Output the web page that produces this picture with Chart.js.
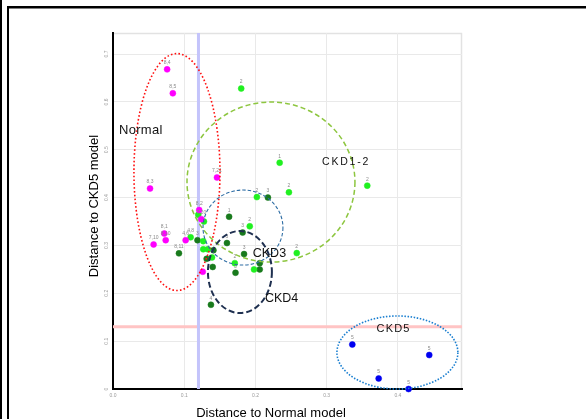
<!DOCTYPE html>
<html><head><meta charset="utf-8">
<script src="https://cdn.jsdelivr.net/npm/chart.js@4/dist/chart.umd.min.js"></script>
<style>html,body{margin:0;padding:0;background:#fff;overflow:hidden}#wrap{position:relative;width:586px;height:419px}</style>
</head><body><div id="wrap"><canvas id="c" width="586" height="419"></canvas></div>
<script>
// ---- data ----
const normalX = [0.076, 0.084, 0.052, 0.146, 0.121, 0.124, 0.072, 0.057, 0.074, 0.102, 0.126];
const normalY = [0.668, 0.618, 0.419, 0.442, 0.374, 0.355, 0.325, 0.302, 0.311, 0.311, 0.245];
const normalLabels = ["8,4","8,5","8,3","7,21","8,2","7,20","8,1","7,10","8,10","4,6",""];

const ckd12X = [0.180, 0.234, 0.247, 0.357, 0.202, 0.192, 0.258, 0.171, 0.198, 0.109, 0.1197, 0.1277, 0.1267, 0.1267, 0.133, 0.139];
const ckd12Y = [0.628, 0.473, 0.411, 0.425, 0.401, 0.340, 0.284, 0.263, 0.250, 0.317, 0.364, 0.350, 0.309, 0.292, 0.292, 0.275];
const ckd12Labels = ["2","1","2","2","2","2","2","2","","4,8","","","","","",""];

const ckd34X = [0.2175, 0.163, 0.182, 0.160, 0.184, 0.172, 0.206, 0.206, 0.1375, 0.0926, 0.1186, 0.140, 0.1315, 0.141];
const ckd34Y = [0.400, 0.360, 0.327, 0.305, 0.282, 0.243, 0.263, 0.250, 0.176, 0.2835, 0.311, 0.255, 0.272, 0.290];
const ckd34Labels = ["3","1","3","3","3","3","","","4","8,11","3","","",""];

const ckd5X = [0.336, 0.373, 0.415, 0.444];
const ckd5Y = [0.093, 0.022, 0.000, 0.071];
const ckd5Labels = ["5","5","5","5"];

const xTicks = [0.0, 0.1, 0.2, 0.3, 0.4];
const yTicks = [0, 0.1, 0.2, 0.3, 0.4, 0.5, 0.6, 0.7];
const cutX = 0.12;   // vertical threshold
const cutY = 0.13;   // horizontal threshold

// group ellipses: [label, cx, cy, rx, ry] in data units
const groupNames = ["Normal", "CKD1-2", "CKD3", "CKD4", "CKD5"];
const groupCX = [0.0898, 0.2218, 0.1825, 0.1782, 0.3993];
const groupCY = [0.4534, 0.4325, 0.3374, 0.2445, 0.0763];
const groupRX = [0.0604, 0.1179, 0.0561, 0.0449, 0.0849];
const groupRY = [0.2476, 0.1672, 0.0784, 0.0857, 0.0763];
// label anchor positions (data units)
const groupLabelX = [0.0084, 0.2935, 0.1962, 0.2133, 0.3700];
const groupLabelY = [0.5414, 0.4750, 0.2832, 0.1881, 0.1254];

const X_MAX = 0.49, Y_MAX = 0.744;

const pts = (xs, ys) => xs.map((x, i) => ({x, y: ys[i]}));

const ellipseStyles = [
  {color:'#ff1010', width:1.6, dash:[1.6,2.2]},
  {color:'#8dc63f', width:1.5, dash:[5,3]},
  {color:'#2e6da4', width:1.1, dash:[3.5,2]},
  {color:'#1f3050', width:2, dash:[6,3]},
  {color:'#1a7fd0', width:1.6, dash:[1.5,1.6]}
];
const labelFonts = [
  {font:'13px "Liberation Sans", Arial, sans-serif', ls:'0.3px'},
  {font:'10.5px "Liberation Sans", Arial, sans-serif', ls:'1.8px'},
  {font:'12.5px "Liberation Sans", Arial, sans-serif', ls:'0px'},
  {font:'12.5px "Liberation Sans", Arial, sans-serif', ls:'0px'},
  {font:'11px "Liberation Sans", Arial, sans-serif', ls:'1.2px'}
];

const decor = {
  id:'decor',
  beforeDraw(chart){
    const c = chart.ctx;
    c.save();
    c.fillStyle = '#fff';
    c.fillRect(0,0,chart.width,chart.height);
    c.fillStyle = '#000';
    c.fillRect(0,0,2,chart.height);
    c.fillRect(7,7,2,chart.height-7);
    c.fillRect(7,6,chart.width-7,2.5);
    const a = chart.chartArea;
    c.strokeStyle = '#e2e2e2';
    c.lineWidth = 1.5;
    c.beginPath();
    c.moveTo(a.left, a.top+0.5); c.lineTo(a.right-0.5, a.top+0.5); c.lineTo(a.right-0.5, a.bottom);
    c.stroke();
    c.restore();
  },
  afterDatasetsDraw(chart){
    const c = chart.ctx, xs = chart.scales.x, ys = chart.scales.y;
    c.save();
    // point labels
    c.font = '5px "Liberation Sans", Arial, sans-serif';
    c.fillStyle = '#8a8a8a';
    c.textAlign = 'center';
    c.textBaseline = 'bottom';
    const lbls = [normalLabels, ckd12Labels, ckd34Labels, ckd5Labels];
    lbls.forEach((L, di) => {
      const meta = chart.getDatasetMeta(di);
      meta.data.forEach((el, i) => { if (L[i]) c.fillText(L[i], el.x, el.y - 4); });
    });
    // ellipses
    groupNames.forEach((n, i) => {
      const cx = xs.getPixelForValue(groupCX[i]), cy = ys.getPixelForValue(groupCY[i]);
      const rx = xs.getPixelForValue(groupCX[i] + groupRX[i]) - cx;
      const ry = cy - ys.getPixelForValue(groupCY[i] + groupRY[i]);
      const s = ellipseStyles[i];
      c.strokeStyle = s.color; c.lineWidth = s.width; c.setLineDash(s.dash);
      c.beginPath(); c.ellipse(cx, cy, rx, ry, 0, 0, Math.PI*2); c.stroke();
    });
    c.setLineDash([]);
    // group labels
    c.fillStyle = '#111';
    c.textAlign = 'left';
    c.textBaseline = 'middle';
    groupNames.forEach((n, i) => {
      c.font = labelFonts[i].font;
      c.letterSpacing = labelFonts[i].ls;
      c.fillText(n, xs.getPixelForValue(groupLabelX[i]), ys.getPixelForValue(groupLabelY[i]));
    });
    c.letterSpacing = '0px';
    // y tick labels (rotated)
    c.font = '5px "Liberation Sans", Arial, sans-serif';
    c.fillStyle = '#9a9a9a';
    c.textAlign = 'center';
    c.textBaseline = 'middle';
    yTicks.forEach(v => {
      const py = ys.getPixelForValue(v);
      c.save(); c.translate(107, py); c.rotate(-Math.PI/2);
      c.fillText(v === 0 ? '0' : v.toFixed(1), 0, 0); c.restore();
    });
    // axis titles
    c.fillStyle = '#000';
    c.font = '13px "Liberation Sans", Arial, sans-serif';
    c.textAlign = 'center';
    c.textBaseline = 'alphabetic';
    c.fillText('Distance to Normal model', 271, 417);
    c.save(); c.translate(98, 206); c.rotate(-Math.PI/2);
    c.fillText('Distance to CKD5 model', 0, 0); c.restore();
    c.restore();
  }
};

const ptDs = (label, data, color) => ({
  label, data, type:'scatter', backgroundColor: color, borderColor: color,
  pointRadius: 3, pointBorderWidth: 0.5, pointHoverRadius: 3, clip: false, order: 1
});

new Chart(document.getElementById('c'), {
  type: 'scatter',
  data: {
    datasets: [
      ptDs('Normal', pts(normalX, normalY), '#ff00ff'),
      ptDs('CKD1-2', pts(ckd12X, ckd12Y), '#20f020'),
      ptDs('CKD3-4', pts(ckd34X, ckd34Y), '#187a1c'),
      ptDs('CKD5', pts(ckd5X, ckd5Y), '#0000f0'),
      {type:'line', label:'cutX', data:[{x:cutX,y:0},{x:cutX,y:Y_MAX}], borderColor:'#c4c4fb', borderWidth:3, pointRadius:0, order:10},
      {type:'line', label:'cutY', data:[{x:0,y:cutY},{x:X_MAX,y:cutY}], borderColor:'#ffc4c4', borderWidth:3, pointRadius:0, order:10}
    ]
  },
  options: {
    responsive: false,
    animation: false,
    events: [],
    layout: {padding: {top:33, right:124, bottom:0, left:0}},
    plugins: {legend:{display:false}, tooltip:{enabled:false}},
    scales: {
      x: {
        type:'linear', min:0, max:X_MAX,
        afterFit(s){ s.height = 30; },
        afterBuildTicks(s){ s.ticks = xTicks.map(v => ({value:v})); },
        ticks: {font:{size:5}, color:'#9a9a9a', padding:4, callback:v => v.toFixed(1), includeBounds:false, maxRotation:0},
        grid: {color:'#e9e9e9', drawTicks:false, lineWidth:1},
        border: {color:'#000', width:2}
      },
      y: {
        type:'linear', min:0, max:Y_MAX,
        afterFit(s){ s.width = 113; },
        afterBuildTicks(s){ s.ticks = yTicks.map(v => ({value:v})); },
        ticks: {display:false, includeBounds:false},
        grid: {color:'#e9e9e9', drawTicks:false, lineWidth:1},
        border: {color:'#000', width:2}
      }
    }
  },
  plugins: [decor]
});
</script>
</body></html>
